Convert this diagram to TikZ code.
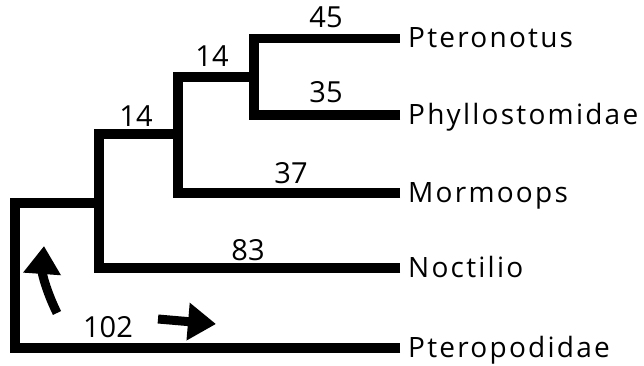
\documentclass[tikz,border=0pt]{standalone}
\usepackage{fontspec}
\setmainfont{Open Sans}
\newfontfamily\taxonfont[LetterSpace=8]{Open Sans}
\usetikzlibrary{arrows.meta}
\begin{document}
\begin{tikzpicture}[x=1pt, y=-1pt, branch/.style={line width=9.5pt, line cap=butt, line join=miter},
		taxon/.style={anchor=west, inner xsep=8pt, inner ysep=0pt, text height=19pt, text depth=0pt, font=\taxonfont\fontsize{28}{30}\selectfont},
		blen/.style={anchor=base, inner sep=0pt, font=\fontsize{29}{30}\selectfont},
		bigarrow/.style={line width=9pt, -{Triangle[length=28pt, width=36pt]}}]
		\useasboundingbox (0,0) rectangle (644,366);

		\node[taxon] (pteronotus) at (400,38.5) {Pteronotus};
		\node[taxon] (phyllo) at (400,115) {Phyllostomidae};
		\node[taxon] (mormoops) at (400,193) {Mormoops};
		\node[taxon] (noctilio) at (400,268) {Noctilio};
		\node[taxon] (pteropod) at (400,348) {Pteropodidae};

		\coordinate (root) at (15,203);
		\coordinate (n1) at (99,134);
		\coordinate (n2) at (178,77);
		\coordinate (n3) at (254,38.5);

		\draw[branch] (pteropod.west) -| (root) -- (root -| n1);
		\draw[branch] (noctilio.west) -| (n1) -- (n1 -| n2);
		\draw[branch] (mormoops.west) -| (n2) -- (n2 -| n3);
		\draw[branch] (phyllo.west) -| (n3) -- (pteronotus.west);

		\node[blen] (l45) at (326,28) {45};
		\node[blen] (l35) at (326,103) {35};
		\node[blen] (l14a) at (212,67) {14};
		\node[blen] (l14b) at (136,127) {14};
		\node[blen] (l37) at (291,183) {37};
		\node[blen] (l83) at (248,260) {83};
		\node[blen] (l102) at (108,337) {102};

		\coordinate (up0) at (57,313);
		\coordinate (up1) at (44,246);
		\coordinate (rt0) at (158,319);
		\coordinate (rt1) at (216,324);
		\draw[bigarrow] (up0) to[bend left=15] (up1);
		\draw[bigarrow] (rt0) -- (rt1);
	\end{tikzpicture}
\end{document}
